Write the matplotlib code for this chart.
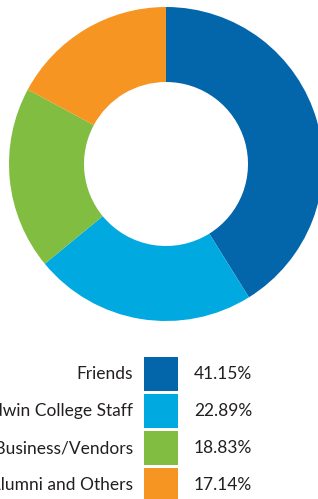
import matplotlib

matplotlib.use("Agg")
import matplotlib.pyplot as plt
from matplotlib.patches import Rectangle

labels = ["Friends", "Baldwin College Staff", "Local Business/Vendors", "Alumni and Others"]
shares = [41.15, 22.89, 18.83, 17.14]
colors = ["#0466aa", "#00a9e0", "#80bd41", "#f69522"]

plt.rcParams["font.family"] = ["Lato", "DejaVu Sans"]

W, H = 318, 499
fig = plt.figure(figsize=(W / 100, H / 100), dpi=100)
ax = fig.add_axes([0, 0, 1, 1])

# donut, clockwise from 12 o'clock
ax.pie(shares, colors=colors, startangle=90, counterclock=False,
       center=(166, H - 164), radius=157,
       wedgeprops=dict(width=75, linewidth=0))

# legend table: label | swatch | percent
for i, (lab, val, col) in enumerate(zip(labels, shares, colors)):
    top = 357 + 37 * i
    ax.add_patch(Rectangle((144, H - top - 34), 34, 34, facecolor=col, edgecolor="none"))
    yc = H - top - 17
    ax.text(133, yc, lab, ha="right", va="center", fontsize=12.5, color="#231f20")
    ax.text(194, yc, f"{val:.2f}%", ha="left", va="center", fontsize=12.5, color="#231f20")

ax.set_xlim(0, W)
ax.set_ylim(0, H)
ax.set_aspect("equal")
ax.axis("off")
fig.savefig("out.png", dpi=100)
